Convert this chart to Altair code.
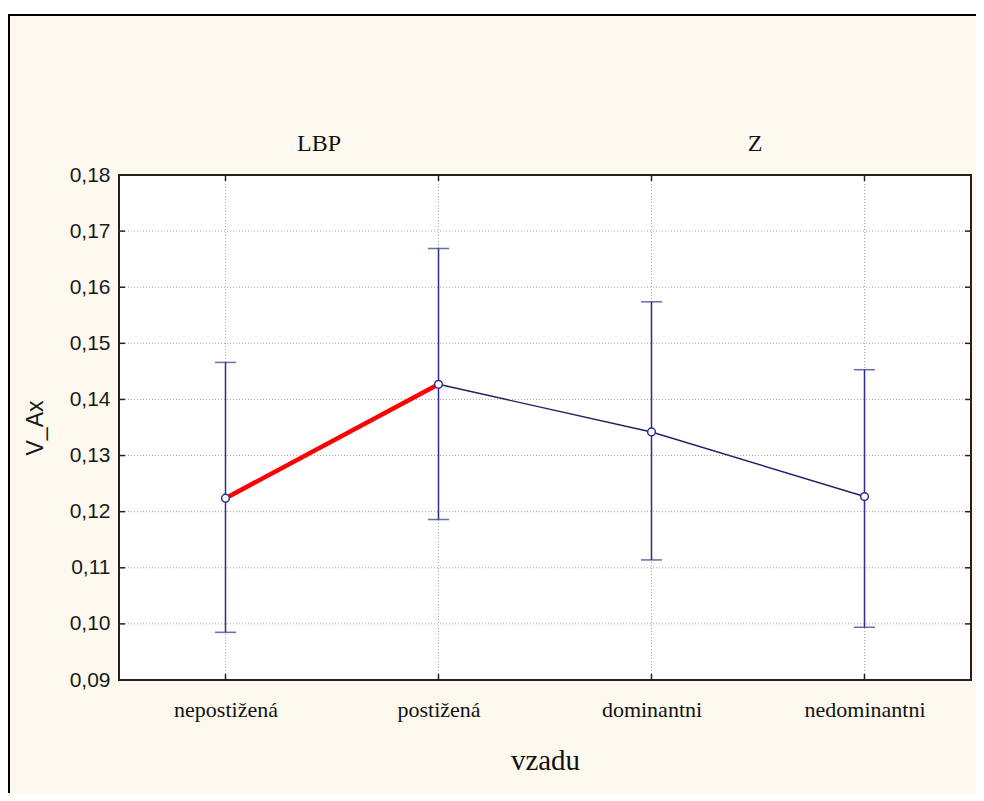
import altair as alt
import pandas as pd

# ---- data ----
categories = ["nepostižená", "postižená", "dominantni", "nedominantni"]
means = [0.1224, 0.1427, 0.1342, 0.1227]
lower = [0.0985, 0.1186, 0.1114, 0.0994]
upper = [0.1466, 0.1669, 0.1574, 0.1453]
groups = ["LBP", "Z"]
group_pos = [0.5, 2.5]
y_ticks = [0.09, 0.10, 0.11, 0.12, 0.13, 0.14, 0.15, 0.16, 0.17, 0.18]

W, H = 852, 505
NAVY = "#2B2E8C"
CREAM = "#FDF9EF"

idx = list(range(len(categories)))
df = pd.DataFrame({"i": idx, "cat": categories, "mean": means, "lo": lower, "hi": upper})
red_seg = df.iloc[0:2]
blue_seg = df.iloc[1:4]
grid_y = pd.DataFrame({"v": y_ticks[1:-1]})
tick_y = pd.DataFrame({"v": y_ticks})
grid_x = pd.DataFrame({"i": idx})
grp1 = pd.DataFrame({"g": groups[:1], "p": group_pos[:1]})
grp2 = pd.DataFrame({"g": groups[1:], "p": group_pos[1:]})
one = pd.DataFrame({"a": [0]})

xscale = alt.Scale(domain=[-0.5, 3.5], nice=False, zero=False)
yscale = alt.Scale(domain=[0.09, 0.18], nice=False, zero=False)

label_arr = "[" + ",".join("'" + c + "'" for c in categories) + "]"

xaxis = alt.Axis(values=idx, labelExpr=label_arr + "[datum.value]", ticks=False, domain=False,
                 grid=False, labelFont="Liberation Serif", labelFontSize=22, labelColor="#111111",
                 labelPadding=19, title="vzadu", titleFont="Liberation Serif", titleFontSize=29,
                 titleFontWeight="normal", titleColor="#111111", titlePadding=26, zindex=1,
                 labelFlush=False, labelOverlap=False)
yaxis = alt.Axis(values=y_ticks, labelExpr="replace(format(datum.value, '.2f'), '.', ',')",
                 ticks=False, domain=False, grid=False, labelFont="Liberation Sans",
                 labelFontSize=21, labelColor="#1a1a1a", labelPadding=9, title="V_Ax",
                 titleFont="Liberation Sans", titleFontSize=23, titleFontWeight="normal",
                 titleColor="#1a1a1a", titlePadding=22, zindex=1, labelFlush=False,
                 labelOverlap=False)

X = alt.X("i:Q", scale=xscale, axis=xaxis)
Y = alt.Y("mean:Q", scale=yscale, axis=yaxis)

# outer cream frame
frame = alt.Chart(one).mark_rect(fill=CREAM, stroke="black", strokeWidth=2).encode(
    x=alt.value(-110), x2=alt.value(W + 200), y=alt.value(-160), y2=alt.value(H + 300))
# plot area
plotbg = alt.Chart(one).mark_rect(fill="white", stroke="#222222", strokeWidth=2).encode(
    x=alt.value(0), x2=alt.value(W), y=alt.value(0), y2=alt.value(H))

gy = alt.Chart(grid_y).mark_rule(color="#A8A8A8", strokeDash=[1, 2], strokeWidth=1).encode(
    y=alt.Y("v:Q", scale=yscale), x=alt.value(0), x2=alt.value(W))
gx = alt.Chart(grid_x).mark_rule(color="#A8A8A8", strokeDash=[1, 2], strokeWidth=1).encode(
    x=alt.X("i:Q", scale=xscale), y=alt.value(0), y2=alt.value(H))

tl = alt.Chart(tick_y).mark_rule(color="#222222", strokeWidth=1.5).encode(
    y=alt.Y("v:Q", scale=yscale), x=alt.value(0), x2=alt.value(6))
tr = alt.Chart(tick_y).mark_rule(color="#222222", strokeWidth=1.5).encode(
    y=alt.Y("v:Q", scale=yscale), x=alt.value(W - 6), x2=alt.value(W))
tt = alt.Chart(grid_x).mark_rule(color="#222222", strokeWidth=1.5).encode(
    x=alt.X("i:Q", scale=xscale), y=alt.value(0), y2=alt.value(6))
tb = alt.Chart(grid_x).mark_rule(color="#222222", strokeWidth=1.5).encode(
    x=alt.X("i:Q", scale=xscale), y=alt.value(H - 6), y2=alt.value(H))

bars = alt.Chart(df).mark_rule(color=NAVY, strokeWidth=1.5).encode(
    x=alt.X("i:Q", scale=xscale), y=alt.Y("lo:Q", scale=yscale), y2="hi:Q")
cap_hi = alt.Chart(df).mark_tick(color=NAVY, orient="horizontal", size=21, thickness=1.5).encode(
    x=alt.X("i:Q", scale=xscale), y=alt.Y("hi:Q", scale=yscale))
cap_lo = alt.Chart(df).mark_tick(color=NAVY, orient="horizontal", size=21, thickness=1.5).encode(
    x=alt.X("i:Q", scale=xscale), y=alt.Y("lo:Q", scale=yscale))

line_b = alt.Chart(blue_seg).mark_line(color="#1F2166", strokeWidth=1.4).encode(
    x=alt.X("i:Q", scale=xscale), y=alt.Y("mean:Q", scale=yscale))
line_r = alt.Chart(red_seg).mark_line(color="#FF0000", strokeWidth=4.5).encode(
    x=alt.X("i:Q", scale=xscale), y=alt.Y("mean:Q", scale=yscale))

pts = alt.Chart(df).mark_point(shape="circle", filled=True, fill="white", stroke=NAVY,
                               strokeWidth=1.5, size=60, opacity=1).encode(x=X, y=Y)

toplab1 = alt.Chart(grp1).mark_text(font="Liberation Serif", fontSize=24, color="#111111",
                                    baseline="middle", align="center", dx=-13).encode(
    x=alt.X("p:Q", scale=xscale), y=alt.value(-31), text="g:N")
toplab2 = alt.Chart(grp2).mark_text(font="Liberation Serif", fontSize=24, color="#111111",
                                    baseline="middle", align="center", dx=-3).encode(
    x=alt.X("p:Q", scale=xscale), y=alt.value(-31), text="g:N")

chart = alt.layer(frame, plotbg, gy, gx, tl, tr, tt, tb, bars, cap_hi, cap_lo,
                  line_b, line_r, pts, toplab1, toplab2).properties(
    width=W, height=H,
    autosize=alt.AutoSizeParams(type="none"),
    padding={"left": 111, "top": 167, "right": 5, "bottom": 113},
    background="white",
).configure_view(stroke=None)

chart.save("out.html", embed_options={"renderer": "svg", "actions": False})
